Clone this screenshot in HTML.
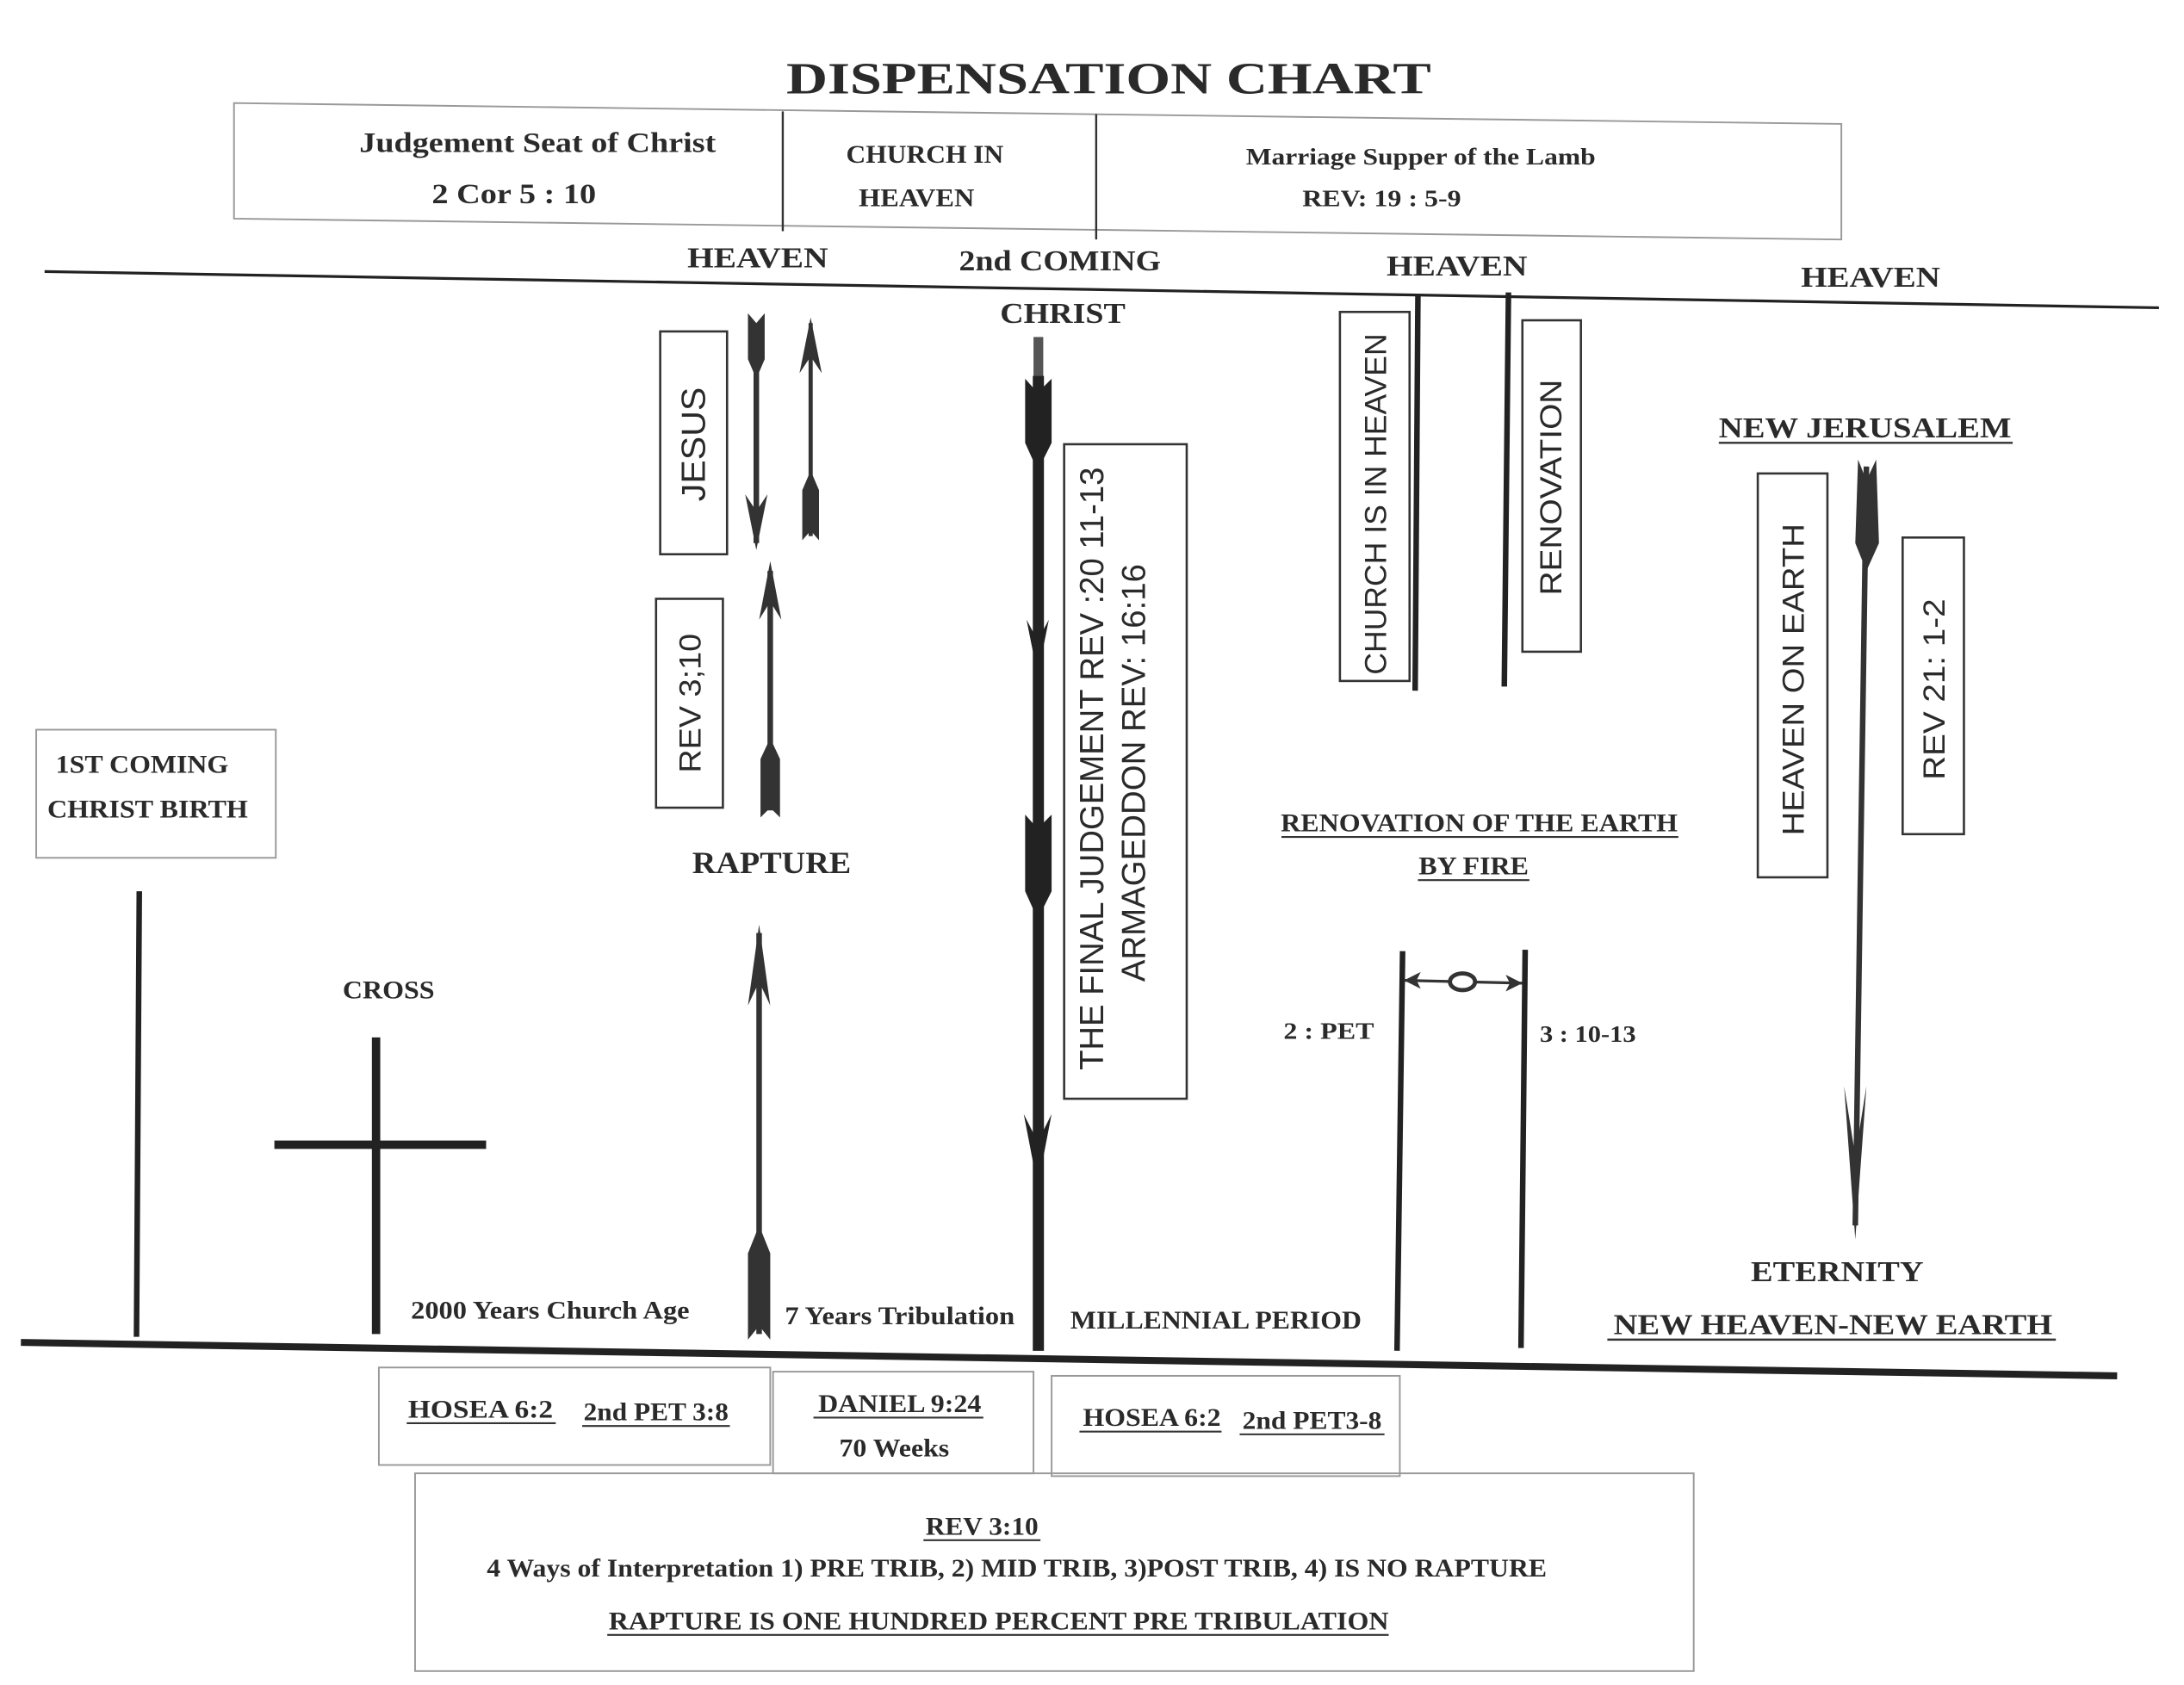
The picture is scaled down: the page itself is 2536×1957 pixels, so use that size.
<!DOCTYPE html>
<html><head><meta charset="utf-8"><style>
html,body{margin:0;padding:0;background:#fff;}
svg{display:block;}
.s{font-family:"Liberation Serif",serif;font-weight:bold;fill:#2a2a2a;}
.a{font-family:"Liberation Sans",sans-serif;fill:#2a2a2a;}
.b{fill:none;stroke:#999;stroke-width:1.2;}
.bk{fill:none;stroke:#333;stroke-width:1.6;}
</style></head><body>
<svg width="2536" height="1957" viewBox="0 0 1568 1210" preserveAspectRatio="none" xmlns="http://www.w3.org/2000/svg">
<rect width="1568" height="1210" fill="#fff"/>
<text class="s" x="796" y="67" font-size="32" text-anchor="middle" textLength="463" lengthAdjust="spacingAndGlyphs">DISPENSATION CHART</text>
<polygon class="b" points="168,74 1322,89 1322,172 168,157"/>
<line x1="562" y1="80" x2="562" y2="166" stroke="#333" stroke-width="1.5"/>
<line x1="787" y1="82" x2="787" y2="172" stroke="#333" stroke-width="1.5"/>
<text class="s" x="386" y="109" font-size="20" text-anchor="middle" textLength="256" lengthAdjust="spacingAndGlyphs">Judgement Seat of Christ</text>
<text class="s" x="369" y="146" font-size="20" text-anchor="middle" textLength="118" lengthAdjust="spacingAndGlyphs">2 Cor 5 : 10</text>
<text class="s" x="664" y="117" font-size="18" text-anchor="middle" textLength="113" lengthAdjust="spacingAndGlyphs">CHURCH IN</text>
<text class="s" x="658" y="148" font-size="18" text-anchor="middle" textLength="83" lengthAdjust="spacingAndGlyphs">HEAVEN</text>
<text class="s" x="1020" y="118" font-size="17" text-anchor="middle" textLength="251" lengthAdjust="spacingAndGlyphs">Marriage Supper of the Lamb</text>
<text class="s" x="992" y="148" font-size="17" text-anchor="middle" textLength="114" lengthAdjust="spacingAndGlyphs">REV: 19 : 5-9</text>
<line x1="32" y1="195" x2="1550" y2="221" stroke="#222" stroke-width="2"/>
<text class="s" x="544" y="192" font-size="21" text-anchor="middle" textLength="101" lengthAdjust="spacingAndGlyphs">HEAVEN</text>
<text class="s" x="761" y="194" font-size="21" text-anchor="middle" textLength="145" lengthAdjust="spacingAndGlyphs">2nd COMING</text>
<text class="s" x="763" y="232" font-size="21" text-anchor="middle" textLength="90" lengthAdjust="spacingAndGlyphs">CHRIST</text>
<text class="s" x="1046" y="198" font-size="21" text-anchor="middle" textLength="101" lengthAdjust="spacingAndGlyphs">HEAVEN</text>
<text class="s" x="1343" y="206" font-size="21" text-anchor="middle" textLength="100" lengthAdjust="spacingAndGlyphs">HEAVEN</text>
<line x1="15" y1="964" x2="1520" y2="988" stroke="#222" stroke-width="5"/>

<rect class="bk" x="474" y="238" width="48" height="160"/>
<text class="a" font-size="24" text-anchor="middle" transform="translate(506,319) rotate(-90)" textLength="82" lengthAdjust="spacingAndGlyphs">JESUS</text>
<line x1="543" y1="235" x2="543" y2="390" stroke="#333" stroke-width="4"/>
<polygon fill="#333" points="537,225 543,232 549,225 549,258 543,272 537,258"/>
<polygon fill="#333" points="543,395 535,355 543,367 551,355"/>
<line x1="582" y1="232" x2="582" y2="385" stroke="#333" stroke-width="3"/>
<polygon fill="#333" points="582,228 574,268 582,256 590,268"/>
<polygon fill="#333" points="576,388 582,381 588,388 588,352 582,338 576,352"/>

<rect class="bk" x="471" y="430" width="48" height="150"/>
<text class="a" font-size="22" text-anchor="middle" transform="translate(503,505) rotate(-90)" textLength="100" lengthAdjust="spacingAndGlyphs">REV 3;10</text>
<line x1="553" y1="410" x2="553" y2="582" stroke="#333" stroke-width="4"/>
<polygon fill="#333" points="553,403 545,445 553,432 561,445"/>
<polygon fill="#333" points="546,587 553,580 560,587 560,545 553,530 546,545"/>
<text class="s" x="554" y="627" font-size="22" text-anchor="middle" textLength="114" lengthAdjust="spacingAndGlyphs">RAPTURE</text>
<line x1="545" y1="670" x2="545" y2="958" stroke="#333" stroke-width="4"/>
<polygon fill="#333" points="545,664 537,722 545,705 553,722"/>
<polygon fill="#333" points="537,962 545,952 553,962 553,900 545,880 537,900"/>

<rect x="742" y="242" width="7" height="30" fill="#555"/>
<line x1="745.5" y1="270" x2="745.5" y2="970" stroke="#222" stroke-width="8"/>
<polygon fill="#222" points="736,272 745,282 755,272 755,318 745,338 736,318"/>
<polygon fill="#222" points="745,485 737,445 745,460 753,445"/>
<polygon fill="#222" points="736,585 745,595 755,585 755,640 745,660 736,640"/>
<polygon fill="#222" points="745,852 735,800 745,820 755,800"/>
<rect class="bk" x="764" y="319" width="88" height="470"/>
<text class="a" font-size="24" text-anchor="middle" transform="translate(792,552) rotate(-90)" textLength="433" lengthAdjust="spacingAndGlyphs">THE FINAL JUDGEMENT REV :20 11-13</text>
<text class="a" font-size="24" text-anchor="middle" transform="translate(822,555) rotate(-90)" textLength="300" lengthAdjust="spacingAndGlyphs">ARMAGEDDON REV: 16:16</text>

<rect class="bk" x="962" y="224" width="50" height="265"/>
<text class="a" font-size="22" text-anchor="middle" transform="translate(995,362) rotate(-90)" textLength="245" lengthAdjust="spacingAndGlyphs">CHURCH IS IN HEAVEN</text>
<line x1="1018" y1="212" x2="1016" y2="496" stroke="#222" stroke-width="4"/>
<line x1="1083" y1="210" x2="1080" y2="493" stroke="#222" stroke-width="4"/>
<rect class="bk" x="1093" y="230" width="42" height="238"/>
<text class="a" font-size="22" text-anchor="middle" transform="translate(1121,350) rotate(-90)" textLength="155" lengthAdjust="spacingAndGlyphs">RENOVATION</text>

<text class="s" x="1339" y="314" font-size="21" text-anchor="middle" textLength="210" lengthAdjust="spacingAndGlyphs">NEW JERUSALEM</text>
<line x1="1234" y1="318" x2="1445" y2="318" stroke="#333" stroke-width="1.5"/>
<rect class="bk" x="1262" y="340" width="50" height="290"/>
<text class="a" font-size="22" text-anchor="middle" transform="translate(1295,488) rotate(-90)" textLength="224" lengthAdjust="spacingAndGlyphs">HEAVEN ON EARTH</text>
<rect class="bk" x="1366" y="386" width="44" height="213"/>
<text class="a" font-size="22" text-anchor="middle" transform="translate(1396,495) rotate(-90)" textLength="130" lengthAdjust="spacingAndGlyphs">REV 21: 1-2</text>
<line x1="1340" y1="335" x2="1332" y2="880" stroke="#333" stroke-width="4"/>
<polygon fill="#333" points="1334,330 1340,345 1347,330 1349,390 1340,410 1332,390"/>
<polygon fill="#333" points="1332,890 1324,780 1332,830 1340,780"/>
<text class="s" x="1319" y="920" font-size="21" text-anchor="middle" textLength="124" lengthAdjust="spacingAndGlyphs">ETERNITY</text>
<text class="s" x="1316" y="958" font-size="21" text-anchor="middle" textLength="315" lengthAdjust="spacingAndGlyphs">NEW HEAVEN-NEW EARTH</text>
<line x1="1154" y1="962" x2="1476" y2="962" stroke="#333" stroke-width="1.5"/>

<rect class="b" x="26" y="524" width="172" height="92"/>
<text class="s" x="102" y="555" font-size="18" text-anchor="middle" textLength="124" lengthAdjust="spacingAndGlyphs">1ST COMING</text>
<text class="s" x="106" y="587" font-size="18" text-anchor="middle" textLength="144" lengthAdjust="spacingAndGlyphs">CHRIST BIRTH</text>
<line x1="100" y1="640" x2="98" y2="960" stroke="#222" stroke-width="4"/>
<text class="s" x="279" y="717" font-size="18" text-anchor="middle" textLength="66" lengthAdjust="spacingAndGlyphs">CROSS</text>
<line x1="270" y1="745" x2="270" y2="958" stroke="#222" stroke-width="6"/>
<line x1="197" y1="822" x2="349" y2="822" stroke="#222" stroke-width="6"/>

<text class="s" x="1062" y="597" font-size="18" text-anchor="middle" textLength="285" lengthAdjust="spacingAndGlyphs">RENOVATION OF THE EARTH</text>
<line x1="920" y1="601" x2="1205" y2="601" stroke="#333" stroke-width="1.3"/>
<text class="s" x="1058" y="628" font-size="18" text-anchor="middle" textLength="79" lengthAdjust="spacingAndGlyphs">BY FIRE</text>
<line x1="1018" y1="632" x2="1098" y2="632" stroke="#333" stroke-width="1.3"/>
<line x1="1007" y1="683" x2="1003" y2="970" stroke="#222" stroke-width="4"/>
<line x1="1095" y1="682" x2="1092" y2="968" stroke="#222" stroke-width="4"/>
<line x1="1008" y1="704" x2="1093" y2="706" stroke="#333" stroke-width="2"/>
<polygon fill="#333" points="1008,704 1020,698 1017,704 1020,710"/>
<polygon fill="#333" points="1093,706 1081,700 1084,706 1081,712"/>
<ellipse cx="1050" cy="705" rx="9" ry="6" fill="#fff" stroke="#333" stroke-width="3"/>
<text class="s" x="954" y="746" font-size="17" text-anchor="middle" textLength="65" lengthAdjust="spacingAndGlyphs">2 : PET</text>
<text class="s" x="1140" y="748" font-size="17" text-anchor="middle" textLength="69" lengthAdjust="spacingAndGlyphs">3 : 10-13</text>

<text class="s" x="395" y="947" font-size="18" text-anchor="middle" textLength="200" lengthAdjust="spacingAndGlyphs">2000 Years Church Age</text>
<text class="s" x="646" y="951" font-size="18" text-anchor="middle" textLength="165" lengthAdjust="spacingAndGlyphs">7 Years Tribulation</text>
<text class="s" x="873" y="954" font-size="18" text-anchor="middle" textLength="209" lengthAdjust="spacingAndGlyphs">MILLENNIAL PERIOD</text>

<rect class="b" x="272" y="982" width="281" height="70"/>
<text class="s" x="345" y="1018" font-size="18" text-anchor="middle" textLength="104" lengthAdjust="spacingAndGlyphs">HOSEA 6:2</text>
<line x1="292" y1="1022" x2="399" y2="1022" stroke="#333" stroke-width="1.3"/>
<text class="s" x="471" y="1020" font-size="18" text-anchor="middle" textLength="104" lengthAdjust="spacingAndGlyphs">2nd PET 3:8</text>
<line x1="418" y1="1024" x2="524" y2="1024" stroke="#333" stroke-width="1.3"/>
<rect class="b" x="555" y="985" width="187" height="73"/>
<text class="s" x="646" y="1014" font-size="18" text-anchor="middle" textLength="117" lengthAdjust="spacingAndGlyphs">DANIEL 9:24</text>
<line x1="584" y1="1018" x2="706" y2="1018" stroke="#333" stroke-width="1.3"/>
<text class="s" x="642" y="1046" font-size="18" text-anchor="middle" textLength="79" lengthAdjust="spacingAndGlyphs">70 Weeks</text>
<rect class="b" x="755" y="988" width="250" height="72"/>
<text class="s" x="827" y="1024" font-size="18" text-anchor="middle" textLength="99" lengthAdjust="spacingAndGlyphs">HOSEA 6:2</text>
<line x1="775" y1="1028" x2="877" y2="1028" stroke="#333" stroke-width="1.3"/>
<text class="s" x="942" y="1026" font-size="18" text-anchor="middle" textLength="100" lengthAdjust="spacingAndGlyphs">2nd PET3-8</text>
<line x1="890" y1="1030" x2="994" y2="1030" stroke="#333" stroke-width="1.3"/>

<rect class="b" x="298" y="1058" width="918" height="142"/>
<text class="s" x="705" y="1102" font-size="18" text-anchor="middle" textLength="81" lengthAdjust="spacingAndGlyphs">REV 3:10</text>
<line x1="663" y1="1106" x2="747" y2="1106" stroke="#333" stroke-width="1.3"/>
<text class="s" x="730" y="1132" font-size="18" text-anchor="middle" textLength="761" lengthAdjust="spacingAndGlyphs">4 Ways of Interpretation 1) PRE TRIB, 2) MID TRIB, 3)POST TRIB, 4) IS NO RAPTURE</text>
<text class="s" x="717" y="1170" font-size="18" text-anchor="middle" textLength="560" lengthAdjust="spacingAndGlyphs">RAPTURE IS ONE HUNDRED PERCENT PRE TRIBULATION</text>
<line x1="436" y1="1174" x2="997" y2="1174" stroke="#333" stroke-width="1.3"/>
</svg>
</body></html>
